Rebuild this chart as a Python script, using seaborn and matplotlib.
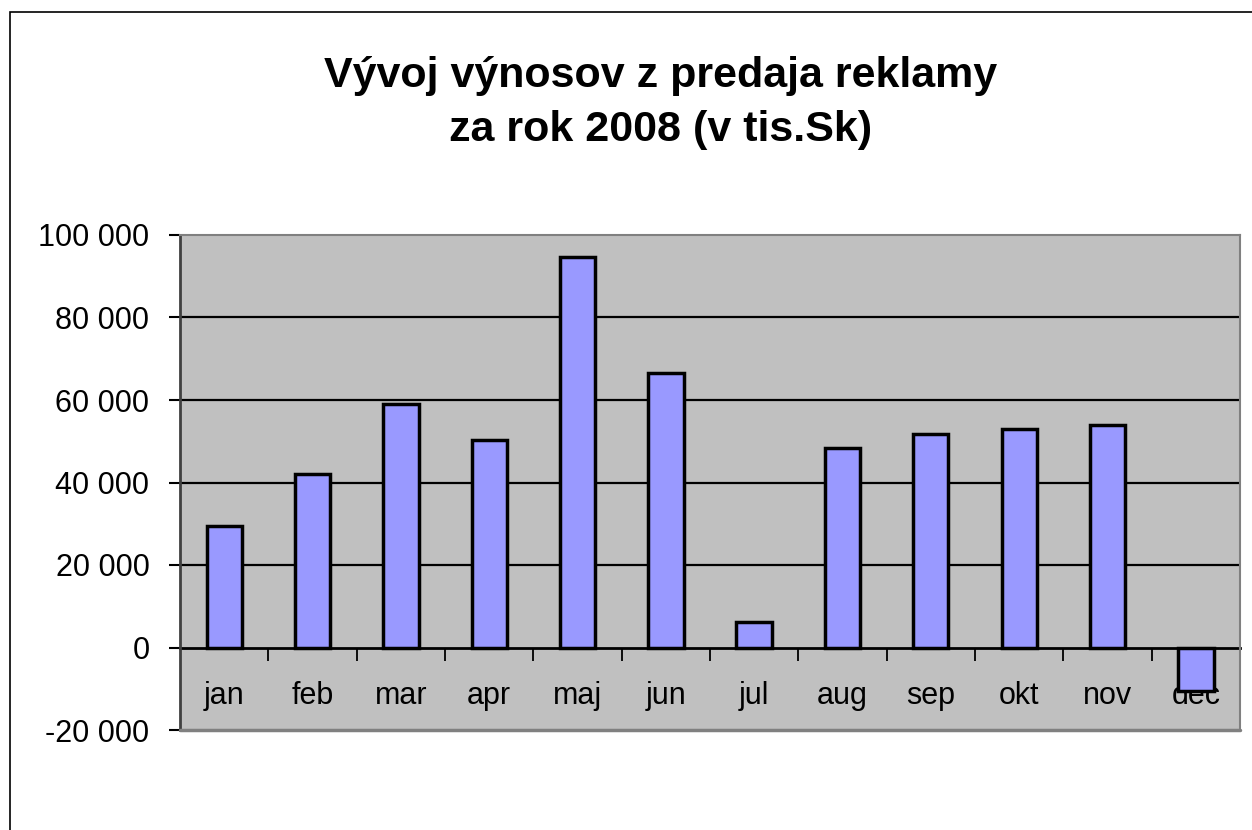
import matplotlib
matplotlib.use("Agg")
import matplotlib.pyplot as plt
import seaborn as sns
import pandas as pd
from matplotlib.patches import Rectangle
from matplotlib.ticker import FuncFormatter, FixedLocator

months = ["jan", "feb", "mar", "apr", "maj", "jun", "jul", "aug", "sep", "okt", "nov", "dec"]
values = [29400, 42000, 59000, 50300, 94600, 66600, 6100, 48400, 51800, 53000, 54000, -10500]
yticks = [-20000, 0, 20000, 40000, 60000, 80000, 100000]
title = "Vývoj výnosov z predaja reklamy\nza rok 2008 (v tis.Sk)"

sns.set_theme(style="white")
plt.rcParams['font.family'] = ['Liberation Sans', 'DejaVu Sans']
plt.rcParams['text.color'] = 'black'
plt.rcParams['xtick.color'] = 'black'
plt.rcParams['ytick.color'] = 'black'

df = pd.DataFrame({"month": months, "value": values})

fig = plt.figure(figsize=(12.52, 8.30), dpi=100)
ax = fig.add_axes([180/1252, 1-730/830, 1060/1252, 495/830])
ax.set_facecolor("#C0C0C0")

for y in [20000, 40000, 60000, 80000]:
    ax.axhline(y, color="black", lw=1.6, zorder=0.5)

sns.barplot(data=df, x="month", y="value", color="#9999FF", edgecolor="black",
            linewidth=2.5, width=0.4, saturation=1, ax=ax, zorder=2)

ax.set_xlim(-0.5, 11.5)
ax.set_ylim(-20000, 100000)
ax.set_yticks(yticks)
ax.yaxis.set_major_formatter(FuncFormatter(lambda v, p: f"{int(v):,}".replace(",", " ")))
ax.set_xlabel("")
ax.set_ylabel("")

for s in ["top", "right"]:
    ax.spines[s].set_color("#808080")
    ax.spines[s].set_linewidth(1.5)
ax.spines["left"].set_color("#404040")
ax.spines["left"].set_linewidth(2)
ax.spines["bottom"].set_position(("data", 0))
ax.spines["bottom"].set_color("black")
ax.spines["bottom"].set_linewidth(2)
ax.spines["bottom"].set_zorder(1)
ax.axhline(-20000, color="#808080", lw=2.5, zorder=3, clip_on=False)

ax.tick_params(axis="y", direction="out", length=8, width=1.5, color="black",
               labelsize=22, pad=14, left=True, labelcolor="black")
ax.xaxis.set_minor_locator(FixedLocator([i + 0.5 for i in range(12)]))
ax.tick_params(axis="x", which="minor", direction="out", length=9, width=1.3, color="black", bottom=True)
ax.tick_params(axis="x", which="major", length=0, labelsize=22, pad=24, labelcolor="black")

fig.text(0.528, 1 - 103/830, title, ha="center", va="center", fontsize=31,
         fontweight="bold", linespacing=1.45, color="black",
         family=["Liberation Sans", "DejaVu Sans"])

fig.patches.append(Rectangle((10/1252, -0.1), 1.2, 1.1 - 12/830, transform=fig.transFigure,
                             fill=False, edgecolor="black", lw=1.2))

fig.savefig("out.png", dpi=100)
